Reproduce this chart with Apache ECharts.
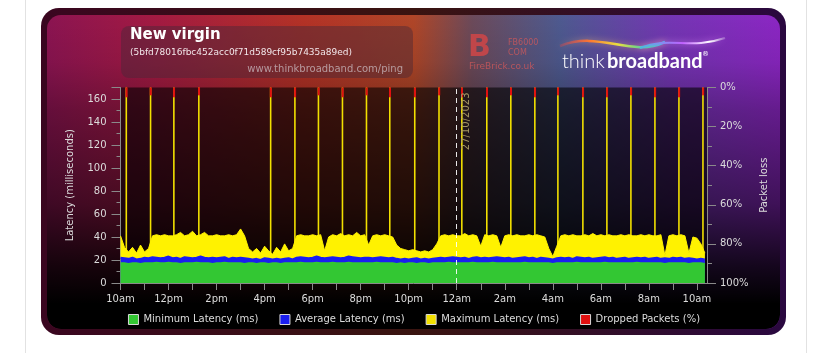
<!DOCTYPE html>
<html>
<head>
<meta charset="utf-8">
<script src="https://cdn.jsdelivr.net/npm/echarts@6/dist/echarts.min.js"></script>
<style>
html, body { margin: 0; padding: 0; background: #fff; }
#chart { width: 828px; height: 353px; }
</style>
</head>
<body>
<div id="chart"></div>
<script>
// x axis: hours since 10am, one sample every 10 minutes
const stepHours = 1 / 6
const tickLabels = ['10am', '12pm', '2pm', '4pm', '6pm', '8pm', '10pm', '12am', '2am', '4am', '6am', '8am', '10am']

const maxLat = [
  41, 31, 27, 31, 26, 33, 27, 30, 41, 42,
  41, 42, 41, 41, 42, 44, 41, 42, 45, 41,
  42, 44, 41, 41, 42, 41, 41, 42, 41, 42,
  47, 41, 30, 27, 30, 26, 32, 28, 25, 31,
  27, 34, 28, 30, 41, 42, 41, 41, 42, 41,
  42, 28, 40, 42, 41, 43, 41, 42, 41, 44,
  41, 42, 33, 41, 42, 41, 42, 41, 40, 33,
  30, 29, 28, 29, 28, 27, 28, 27, 29, 34,
  41, 42, 41, 42, 41, 41, 43, 41, 42, 41,
  32, 42, 41, 42, 41, 31, 41, 42, 41, 42,
  41, 41, 42, 41, 42, 41, 40, 30, 23, 32,
  41, 42, 41, 42, 41, 41, 42, 41, 43, 41,
  42, 41, 42, 41, 41, 42, 41, 42, 41, 41,
  42, 41, 42, 41, 41, 42, 24, 41, 42, 41,
  42, 41, 26, 40, 39, 34, 26
]

const avgLat = [
  22, 21.5, 21, 22, 20.5, 21, 22, 21.5, 22.5, 22,
  21.5, 22, 23, 21.5, 22, 21, 22.5, 22, 21.5, 22,
  23, 22, 21.5, 22, 21.5, 22, 22.5, 21, 22, 21.5,
  22, 21.5, 21, 20.5, 21, 20, 21.5, 21, 20.5, 21,
  20.5, 21, 21.5, 20.5, 22, 22.5, 22, 21.5, 22, 23,
  22, 21.5, 22, 22.5, 22, 21.5, 22, 23, 22.5, 22,
  21.5, 22, 22, 21.5, 22, 22.5, 22, 21.5, 22, 21,
  20.5, 21, 20.5, 21, 21.5, 20.5, 21, 20.5, 21, 21.5,
  22, 21.5, 22, 22.5, 22, 21.5, 22, 21, 22, 22.5,
  21.5, 22, 21.5, 22, 22.5, 22, 21.5, 22, 21, 21.5,
  22, 22.5, 21.5, 22, 21, 22, 21.5, 21, 20.5, 21.5,
  22, 21.5, 22, 21, 22.5, 22, 21.5, 22, 21, 21.5,
  22, 22.5, 21.5, 22, 21, 21.5, 22, 21, 21.5, 22,
  21.5, 22, 21, 21.5, 22, 21, 21.5, 21, 22, 21.5,
  22, 21, 21.5, 21, 20.5, 21, 20.5
]

const minLat = [
  18, 18, 17.5, 18, 18, 17.5, 18, 18, 18, 18.5,
  18, 18, 18.5, 18, 18, 17.5, 18, 18, 18, 18.5,
  18, 18, 18, 17.5, 18, 18, 18.5, 18, 18, 18,
  18, 17.5, 18, 18, 17.5, 18, 18, 17.5, 18, 18,
  17.5, 18, 18, 18, 18, 18.5, 18, 18, 18, 18.5,
  18, 18, 18, 18.5, 18, 18, 18, 18.5, 18, 18,
  18, 18, 18, 18, 18.5, 18, 18, 18, 18, 17.5,
  18, 17.5, 18, 18, 17.5, 18, 18, 17.5, 18, 18,
  18, 18, 18.5, 18, 18, 18, 18, 18, 18.5, 18,
  18, 18, 18, 18.5, 18, 18, 18, 18, 18, 18,
  18, 18.5, 18, 18, 18, 18, 18, 18, 17.5, 18,
  18, 18, 18, 18, 18.5, 18, 18, 18, 18, 18,
  18, 18.5, 18, 18, 18, 18, 18, 18, 18, 18.5,
  18, 18, 18, 18, 18, 18, 17.5, 18, 18, 18,
  18, 18, 17.5, 18, 18, 18, 17.5
]

// hourly latency spikes (clipped at the top of the chart) with some dropped packets
const spikeHours = [0.25, 1.26, 2.23, 3.27, 6.26, 7.27, 8.25, 9.25, 10.25, 11.22, 12.26, 13.27,
  14.22, 15.26, 16.26, 17.26, 18.22, 19.26, 20.26, 21.26, 22.26, 23.26, 24.26]
const spikeMax = [170, 170, 170, 170, 170, 170, 170, 170, 170, 170, 170, 170,
  170, 170, 170, 170, 170, 170, 170, 170, 170, 170, 170]
const dropPct = [5, 4, 5, 4, 5, 5, 4, 5, 4, 5, 5, 4, 5, 5, 4, 5, 4, 5, 5, 4, 5, 5, 4]

const dateMarkHour = 14
const dateMarkText = '27/10/2023'

const FONT = '"DejaVu Sans", sans-serif'
const LG = echarts.graphic.LinearGradient

const byIndex = arr => arr.map((v, i) => [i * stepHours, v])
const paired = (xs, ys) => xs.map((x, i) => [x, ys[i]])

const chart = echarts.init(document.getElementById('chart'))

const bgGraphics = [
  { type: 'rect', z: -20, shape: { x: 25, y: 0, width: 1, height: 353 }, style: { fill: '#e2e2e2' } },
  { type: 'rect', z: -20, shape: { x: 806, y: 0, width: 1, height: 353 }, style: { fill: '#e2e2e2' } },
  { type: 'rect', z: -20, shape: { x: 41, y: 8, width: 745, height: 327, r: 18 },
    style: { fill: new LG(0, 0, 1, 0, [
      { offset: 0, color: '#3a0620' }, { offset: 0.5, color: '#3a1410' }, { offset: 1, color: '#2a0840' }]) } },
  { type: 'rect', z: -19, shape: { x: 47, y: 15, width: 733, height: 314, r: 14 },
    style: { fill: new LG(0, 0, 1, 0, [
      { offset: 0, color: '#8c1452' },
      { offset: 0.15, color: '#a41a42' },
      { offset: 0.35, color: '#b43226' },
      { offset: 0.5, color: '#b04628' },
      { offset: 0.58, color: '#6c4a5a' },
      { offset: 0.7, color: '#4e5a90' },
      { offset: 0.85, color: '#7436b4' },
      { offset: 1, color: '#8c26c4' }]) } },
  { type: 'rect', z: -18, shape: { x: 47, y: 15, width: 733, height: 314, r: 14 },
    style: { fill: new LG(0, 0, 0, 1, [
      { offset: 0, color: 'rgba(0,0,0,0)' },
      { offset: 0.15, color: 'rgba(0,0,0,0.08)' },
      { offset: 0.3, color: 'rgba(0,0,0,0.28)' },
      { offset: 0.6, color: 'rgba(0,0,0,0.55)' },
      { offset: 0.8, color: 'rgba(0,0,0,0.85)' },
      { offset: 0.92, color: 'rgba(0,0,0,1)' },
      { offset: 1, color: 'rgba(0,0,0,1)' }]) } }
]

const headerGraphics = [
  { type: 'rect', z: 10, shape: { x: 121, y: 26, width: 292, height: 52, r: 8 },
    style: { fill: 'rgba(70,40,55,0.45)' } },
  { type: 'text', z: 11, x: 130, y: 28,
    style: { text: 'New virgin', fill: '#fff', font: 'bold 15px ' + FONT } },
  { type: 'text', z: 11, x: 130, y: 48,
    style: { text: '(5bfd78016fbc452acc0f71d589cf95b7435a89ed)', fill: '#f2e6ea', font: '9px ' + FONT } },
  { type: 'text', z: 11, x: 403, y: 64,
    style: { text: 'www.thinkbroadband.com/ping', fill: 'rgba(210,200,205,0.7)', font: '10px ' + FONT, align: 'right' } },
  // FireBrick mark
  { type: 'text', z: 11, x: 468, y: 33,
    style: { text: 'B', fill: 'rgba(215,70,70,0.8)', font: 'bold 30px ' + FONT } },
  { type: 'text', z: 11, x: 508, y: 39,
    style: { text: 'FB6000', fill: 'rgba(215,90,90,0.75)', font: '8px ' + FONT } },
  { type: 'text', z: 11, x: 508, y: 49,
    style: { text: 'COM', fill: 'rgba(215,90,90,0.75)', font: '8px ' + FONT } },
  { type: 'text', z: 11, x: 469, y: 62,
    style: { text: 'FireBrick.co.uk', fill: 'rgba(215,90,90,0.75)', font: '9px ' + FONT } },
  // thinkbroadband logo
  { type: 'bezierCurve', z: 11,
    shape: { x1: 560, y1: 46, cpx1: 600, cpy1: 30, cpx2: 630, cpy2: 58, x2: 665, y2: 42 },
    style: { fill: null, lineWidth: 2.5, stroke: new LG(0, 0, 1, 0, [
      { offset: 0, color: 'rgba(255,60,60,0.2)' }, { offset: 0.3, color: '#ff7a30' },
      { offset: 0.55, color: '#e8e040' }, { offset: 0.8, color: '#40d0a0' }, { offset: 1, color: '#4aa0ff' }]),
      shadowBlur: 6, shadowColor: 'rgba(255,200,120,0.6)' } },
  { type: 'bezierCurve', z: 11,
    shape: { x1: 640, y1: 48, cpx1: 670, cpy1: 36, cpx2: 690, cpy2: 50, x2: 725, y2: 38 },
    style: { fill: null, lineWidth: 2, stroke: new LG(0, 0, 1, 0, [
      { offset: 0, color: '#40c0e0' }, { offset: 0.5, color: '#c060ff' }, { offset: 0.8, color: '#ffffff' },
      { offset: 1, color: 'rgba(255,255,255,0.1)' }]),
      shadowBlur: 6, shadowColor: 'rgba(230,150,255,0.7)' } },
  { type: 'text', z: 11, x: 562, y: 52,
    style: { text: 'think', fill: '#fff', font: '300 20px Lato, sans-serif' } },
  { type: 'text', z: 11, x: 607, y: 52,
    style: { text: 'broadband', fill: '#fff', font: 'bold 20px Lato, sans-serif' } },
  { type: 'text', z: 11, x: 702, y: 51,
    style: { text: '®', fill: '#fff', font: '7px ' + FONT } }
]

const axisText = { color: '#dcdcdc', fontSize: 10, fontFamily: FONT }

chart.setOption({
  animation: false,
  backgroundColor: '#fff',
  graphic: { elements: bgGraphics.concat(headerGraphics) },
  grid: {
    left: 120.5, right: 121, top: 87.5, bottom: 70,
    show: true, backgroundColor: 'rgba(0,0,0,0.58)', borderWidth: 0
  },
  xAxis: {
    type: 'value', min: 0, max: 24.42, interval: 1,
    axisLine: { lineStyle: { color: '#8a8a8a' } },
    axisTick: { length: 7, lineStyle: { color: '#8a8a8a' } },
    axisLabel: {
      ...axisText, margin: 11,
      showMaxLabel: false,
      formatter: v => (Number.isInteger(v) && v % 2 === 0 ? tickLabels[v / 2] : '')
    },
    splitLine: { show: false }
  },
  yAxis: [
    {
      type: 'value', min: 0, max: 170, interval: 20,
      name: 'Latency (milliseconds)', nameLocation: 'middle', nameRotate: 90, nameGap: 45,
      nameTextStyle: axisText,
      axisLine: { show: true, lineStyle: { color: '#8a8a8a' } },
      axisTick: { show: true, length: 9, lineStyle: { color: '#8a8a8a' } },
      minorTick: { show: true, splitNumber: 2, length: 4, lineStyle: { color: '#8a8a8a' } },
      axisLabel: { ...axisText, margin: 14, showMaxLabel: false },
      splitLine: { show: false }, minorSplitLine: { show: false }
    },
    {
      type: 'value', min: 0, max: 100, interval: 20, inverse: true, position: 'right',
      name: 'Packet loss', nameLocation: 'middle', nameRotate: 90, nameGap: 43,
      nameTextStyle: axisText,
      axisLine: { show: true, lineStyle: { color: '#8a8a8a' } },
      axisTick: { show: true, length: 9, lineStyle: { color: '#8a8a8a' } },
      minorTick: { show: true, splitNumber: 2, length: 5, lineStyle: { color: '#8a8a8a' } },
      axisLabel: { ...axisText, margin: 13, formatter: '{value}%' },
      splitLine: { show: false }
    }
  ],
  legend: {
    top: 309, left: 'center', itemWidth: 10, itemHeight: 10, itemGap: 21,
    icon: 'rect',
    itemStyle: { borderColor: '#d8d8d8', borderWidth: 1 },
    textStyle: { color: '#dcdcdc', fontSize: 10, fontFamily: FONT },
    data: ['Minimum Latency (ms)', 'Average Latency (ms)', 'Maximum Latency (ms)', 'Dropped Packets (%)']
  },
  series: [
    {
      name: 'Maximum Latency (ms)', type: 'bar', barWidth: 1.6, barGap: '-100%',
      data: paired(spikeHours, spikeMax),
      itemStyle: { color: '#f2e000' }
    },
    {
      name: 'Maximum Latency (ms)', type: 'line', data: byIndex(maxLat),
      showSymbol: false, symbol: 'none',
      lineStyle: { color: '#fff200', width: 1 },
      itemStyle: { color: '#fff200' },
      areaStyle: { color: '#fff200', opacity: 1 }
    },
    {
      name: 'Average Latency (ms)', type: 'line', data: byIndex(avgLat),
      showSymbol: false, symbol: 'none',
      lineStyle: { color: '#1a1ef0', width: 2 },
      itemStyle: { color: '#1a1ef0' },
      areaStyle: { color: '#1a1ef0', opacity: 1 }
    },
    {
      name: 'Minimum Latency (ms)', type: 'line', data: byIndex(minLat),
      showSymbol: false, symbol: 'none',
      lineStyle: { width: 0 },
      itemStyle: { color: '#33c733' },
      areaStyle: { color: '#33c733', opacity: 1 },
      markLine: {
        silent: true, symbol: 'none',
        lineStyle: { color: '#ffffff', type: [5, 4], width: 1, opacity: 0.9 },
        label: {
          show: true, formatter: dateMarkText, position: 'insideEndBottom',
          color: '#b4a46a', fontSize: 10, fontFamily: FONT
        },
        data: [{ xAxis: dateMarkHour }]
      }
    },
    {
      name: 'Dropped Packets (%)', type: 'bar', yAxisIndex: 1, barWidth: 2, barGap: '-100%',
      data: paired(spikeHours, dropPct),
      itemStyle: { color: '#e01010' }
    }
  ]
})
</script>
</body>
</html>
